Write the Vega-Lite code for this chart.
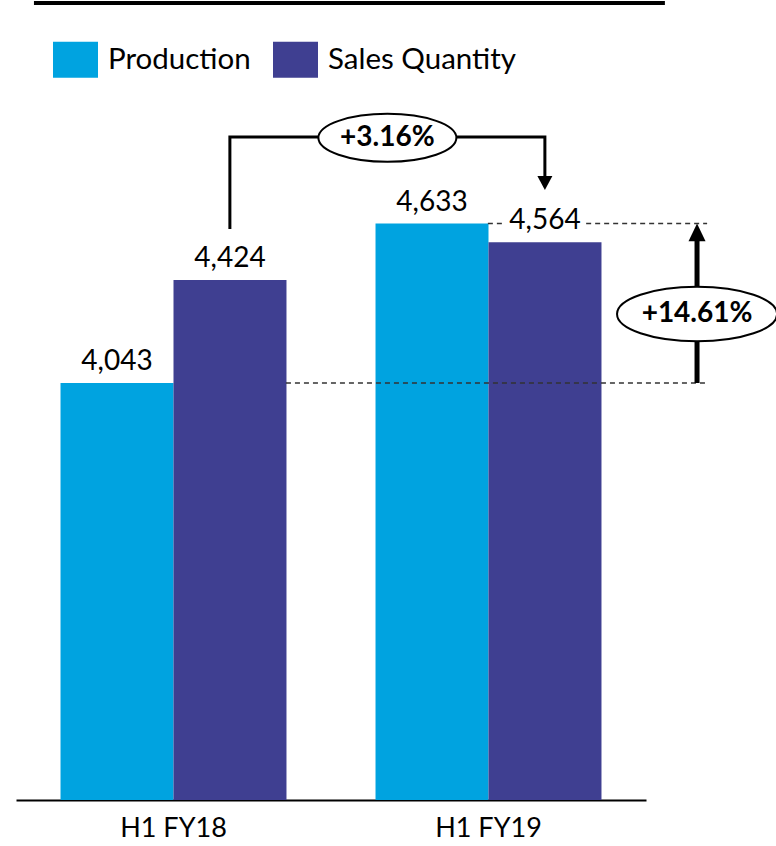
{
  "$schema": "https://vega.github.io/schema/vega-lite/v6.json",
  "width": 630,
  "height": 800,
  "autosize": {"type": "none"},
  "padding": {"left": 16, "top": 0, "right": 130, "bottom": 46},
  "background": "white",
  "config": {"view": {"stroke": null}, "font": "Lato"},
  "datasets": {
    "bars": [
      {"period": "H1 FY18", "series": "Production", "value": 4043},
      {"period": "H1 FY18", "series": "Sales Quantity", "value": 4424},
      {"period": "H1 FY19", "series": "Production", "value": 4633},
      {"period": "H1 FY19", "series": "Sales Quantity", "value": 4564}
    ],
    "bracket": [
      {"step": 1, "gx": 0.679, "v": 4613},
      {"step": 2, "gx": 0.679, "v": 4953},
      {"step": 3, "gx": 1.679, "v": 4953},
      {"step": 4, "gx": 1.679, "v": 4809}
    ],
    "guides": [
      {"gx": 0.857, "gx2": 2.194, "v": 4043},
      {"gx": 1.498, "gx2": 1.546, "v": 4633},
      {"gx": 1.81, "gx2": 2.194, "v": 4633}
    ],
    "topline": [{"gx": 0.057, "gx2": 2.06, "v": 5449}],
    "shaft": [{"gx": 2.162, "v": 4043, "v2": 4572}],
    "headDown": [{"gx": 1.679, "v": 4757}],
    "headUp": [{"gx": 2.162, "v": 4633}],
    "pct1": [{"gx": 1.179, "v": 4950, "label": "+3.16%"}],
    "pct2": [{"gx": 2.162, "v": 4298, "label": "+14.61%"}]
  },
  "layer": [
    {
      "data": {"name": "bars"},
      "encoding": {
        "x": {
          "field": "period", "type": "nominal",
          "scale": {"paddingInner": 0, "paddingOuter": 0},
          "axis": {"title": null, "labelFontSize": 27, "labelColor": "black", "labelPadding": 15, "ticks": false, "domainColor": "black", "domainWidth": 2, "labelAngle": 0, "labelFont": "Lato", "grid": false}
        },
        "xOffset": {"field": "series", "type": "nominal", "scale": {"paddingInner": 0, "paddingOuter": 0.394}},
        "y": {"field": "value", "type": "quantitative", "scale": {"domain": [2500, 5460], "nice": false, "zero": false}, "axis": null}
      },
      "layer": [
        {
          "mark": {"type": "bar"},
          "encoding": {
            "y2": {"datum": 2500},
            "color": {
              "field": "series", "type": "nominal",
              "scale": {"domain": ["Production", "Sales Quantity"], "range": ["#00A3E0", "#3F3F91"]},
              "legend": {
                "title": null, "orient": "none", "direction": "horizontal",
                "legendX": 37, "legendY": 37,
                "symbolType": "M-1,-0.8H1V0.8H-1Z", "symbolSize": 2025, "symbolStrokeWidth": 0, "symbolOpacity": 1,
                "labelFontSize": 29.5, "labelFont": "Lato", "labelColor": "black", "labelOffset": 10, "columnPadding": 22, "labelLimit": 400
              }
            }
          }
        },
        {
          "mark": {"type": "text", "align": "center", "baseline": "alphabetic", "dy": -13, "fontSize": 28, "color": "black"},
          "encoding": {"text": {"field": "value", "type": "quantitative", "format": ","}}
        }
      ]
    },
    {
      "layer": [
        {
          "data": {"name": "topline"},
          "mark": {"type": "rule", "color": "black", "strokeWidth": 4},
          "encoding": {
            "x": {"field": "gx", "type": "quantitative", "scale": {"domain": [0, 2], "nice": false, "zero": false}, "axis": null},
            "x2": {"field": "gx2"},
            "y": {"field": "v", "type": "quantitative", "scale": {"domain": [2500, 5460], "nice": false, "zero": false}, "axis": null}
          }
        },
        {
          "data": {"name": "guides"},
          "mark": {"type": "rule", "color": "#333333", "strokeWidth": 1.5, "strokeDash": [5, 4]},
          "encoding": {
            "x": {"field": "gx", "type": "quantitative", "scale": {"domain": [0, 2], "nice": false, "zero": false}, "axis": null},
            "x2": {"field": "gx2"},
            "y": {"field": "v", "type": "quantitative", "scale": {"domain": [2500, 5460], "nice": false, "zero": false}, "axis": null}
          }
        },
        {
          "data": {"name": "bracket"},
          "mark": {"type": "line", "color": "black", "strokeWidth": 3, "strokeJoin": "miter"},
          "encoding": {
            "x": {"field": "gx", "type": "quantitative", "scale": {"domain": [0, 2], "nice": false, "zero": false}, "axis": null},
            "y": {"field": "v", "type": "quantitative", "scale": {"domain": [2500, 5460], "nice": false, "zero": false}, "axis": null},
            "order": {"field": "step", "type": "quantitative"}
          }
        },
        {
          "data": {"name": "headDown"},
          "mark": {"type": "point", "shape": "M-1,-1.87L1,-1.87L0,0Z", "size": 225, "filled": true, "color": "black", "opacity": 1},
          "encoding": {
            "x": {"field": "gx", "type": "quantitative", "scale": {"domain": [0, 2], "nice": false, "zero": false}, "axis": null},
            "y": {"field": "v", "type": "quantitative", "scale": {"domain": [2500, 5460], "nice": false, "zero": false}, "axis": null}
          }
        },
        {
          "data": {"name": "shaft"},
          "mark": {"type": "rule", "color": "black", "strokeWidth": 5},
          "encoding": {
            "x": {"field": "gx", "type": "quantitative", "scale": {"domain": [0, 2], "nice": false, "zero": false}, "axis": null},
            "y": {"field": "v", "type": "quantitative", "scale": {"domain": [2500, 5460], "nice": false, "zero": false}, "axis": null},
            "y2": {"field": "v2"}
          }
        },
        {
          "data": {"name": "headUp"},
          "mark": {"type": "point", "shape": "M-1,2.1L1,2.1L0,0Z", "size": 289, "filled": true, "color": "black", "opacity": 1},
          "encoding": {
            "x": {"field": "gx", "type": "quantitative", "scale": {"domain": [0, 2], "nice": false, "zero": false}, "axis": null},
            "y": {"field": "v", "type": "quantitative", "scale": {"domain": [2500, 5460], "nice": false, "zero": false}, "axis": null}
          }
        },
        {
          "data": {"name": "pct1"},
          "mark": {"type": "point", "shape": "M1,0C1,0.192,0.552,0.348,0,0.348C-0.552,0.348,-1,0.192,-1,0C-1,-0.192,-0.552,-0.348,0,-0.348C0.552,-0.348,1,-0.192,1,0Z", "size": 19044, "filled": true, "fill": "white", "stroke": "black", "strokeWidth": 2, "opacity": 1},
          "encoding": {
            "x": {"field": "gx", "type": "quantitative", "scale": {"domain": [0, 2], "nice": false, "zero": false}, "axis": null},
            "y": {"field": "v", "type": "quantitative", "scale": {"domain": [2500, 5460], "nice": false, "zero": false}, "axis": null}
          }
        },
        {
          "data": {"name": "pct2"},
          "mark": {"type": "point", "shape": "M1,0C1,0.188,0.552,0.34,0,0.34C-0.552,0.34,-1,0.188,-1,0C-1,-0.188,-0.552,-0.34,0,-0.34C0.552,-0.34,1,-0.188,1,0Z", "size": 25600, "filled": true, "fill": "white", "stroke": "black", "strokeWidth": 2, "opacity": 1},
          "encoding": {
            "x": {"field": "gx", "type": "quantitative", "scale": {"domain": [0, 2], "nice": false, "zero": false}, "axis": null},
            "y": {"field": "v", "type": "quantitative", "scale": {"domain": [2500, 5460], "nice": false, "zero": false}, "axis": null}
          }
        },
        {
          "data": {"name": "pct1"},
          "mark": {"type": "text", "align": "center", "baseline": "middle", "fontSize": 28, "fontWeight": "bold", "color": "black"},
          "encoding": {
            "x": {"field": "gx", "type": "quantitative", "scale": {"domain": [0, 2], "nice": false, "zero": false}, "axis": null},
            "y": {"field": "v", "type": "quantitative", "scale": {"domain": [2500, 5460], "nice": false, "zero": false}, "axis": null},
            "text": {"field": "label"}
          }
        },
        {
          "data": {"name": "pct2"},
          "mark": {"type": "text", "align": "center", "baseline": "middle", "fontSize": 28, "fontWeight": "bold", "color": "black"},
          "encoding": {
            "x": {"field": "gx", "type": "quantitative", "scale": {"domain": [0, 2], "nice": false, "zero": false}, "axis": null},
            "y": {"field": "v", "type": "quantitative", "scale": {"domain": [2500, 5460], "nice": false, "zero": false}, "axis": null},
            "text": {"field": "label"}
          }
        }
      ]
    }
  ],
  "resolve": {"scale": {"x": "independent"}}
}
